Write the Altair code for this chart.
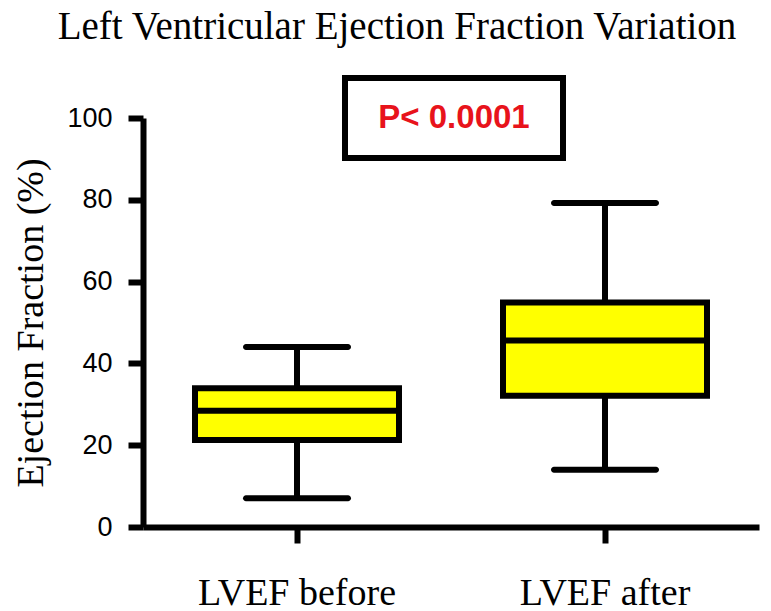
import altair as alt
import pandas as pd

# ---- data ----
groups = ["LVEF before", "LVEF after"]
whisker_low = [7.0, 14.0]
quartile_1 = [21.3, 32.1]
medians = [28.4, 45.6]
quartile_3 = [33.9, 54.9]
whisker_high = [44.0, 79.2]

y_ticks = [0, 20, 40, 60, 80, 100]
chart_title = "Left Ventricular Ejection Fraction Variation"
y_title = "Ejection Fraction (%)"
p_label = ["P< 0.0001"]

df = pd.DataFrame({
    "group": groups,
    "lo": whisker_low,
    "q1": quartile_1,
    "med": medians,
    "q3": quartile_3,
    "hi": whisker_high,
})
ann = pd.DataFrame({"label": p_label})

LW = 6

x_axis = alt.Axis(title=None, labelAngle=0, labelFont="Liberation Serif", labelFontSize=38,
                  labelColor="black", labelPadding=31, labelLimit=0, tickSize=16, tickWidth=LW,
                  tickColor="black", domainWidth=LW, domainColor="black", grid=False)
y_axis = alt.Axis(values=y_ticks, title=y_title, titleFont="Liberation Serif", titleFontSize=38,
                  titleFontWeight="normal", titleColor="black", titlePadding=16,
                  labelFont="Liberation Sans", labelFontSize=27, labelColor="black",
                  labelPadding=16, tickSize=15, tickWidth=LW, tickColor="black",
                  domainWidth=LW, domainColor="black", grid=False)
x_scale = alt.Scale(paddingInner=0, paddingOuter=0)
y_scale = alt.Scale(domain=[0, 100], nice=False)


def X():
    return alt.X("group:N", sort=groups, scale=x_scale, axis=x_axis)


def Y(f):
    return alt.Y(f"{f}:Q", scale=y_scale, axis=y_axis)


base = alt.Chart(df)

whisk_low = base.mark_rule(strokeWidth=LW, color="black", opacity=1).encode(x=X(), y=Y("lo"), y2="q1")
whisk_high = base.mark_rule(strokeWidth=LW, color="black", opacity=1).encode(x=X(), y=Y("q3"), y2="hi")
box = base.mark_bar(size=204, fill="#FFFF00", stroke="black", strokeWidth=LW, opacity=1).encode(
    x=X(), y=Y("q1"), y2="q3")
med = base.mark_tick(size=204, thickness=LW, color="black", opacity=1).encode(x=X(), y=Y("med"))
cap_low = base.mark_tick(size=108, thickness=LW, color="black", opacity=1, cornerRadius=3).encode(
    x=X(), y=Y("lo"))
cap_high = base.mark_tick(size=108, thickness=LW, color="black", opacity=1, cornerRadius=3).encode(
    x=X(), y=Y("hi"))

p_box = alt.Chart(ann).mark_rect(fill="white", stroke="black", strokeWidth=LW, opacity=1).encode(
    x=alt.value(202), x2=alt.value(420), y=alt.value(-40), y2=alt.value(40))
p_text = alt.Chart(ann).mark_text(font="Liberation Sans", fontSize=33, fontWeight="bold",
                                  color="#E8131B", align="center", baseline="middle").encode(
    x=alt.value(311), y=alt.value(0), text="label:N")

chart = alt.layer(whisk_low, whisk_high, box, med, cap_low, cap_high, p_box, p_text).properties(
    width=616, height=409,
    title=alt.TitleParams(text=chart_title, font="Liberation Serif", fontSize=39,
                          fontWeight="normal", color="black", anchor="middle", dx=-54, offset=28),
    autosize=alt.AutoSizeParams(type="none"),
    padding={"left": 135, "top": 110, "right": 4, "bottom": 84},
).configure_view(stroke=None)

chart.save("out.html", embed_options={"renderer": "svg", "actions": False})
